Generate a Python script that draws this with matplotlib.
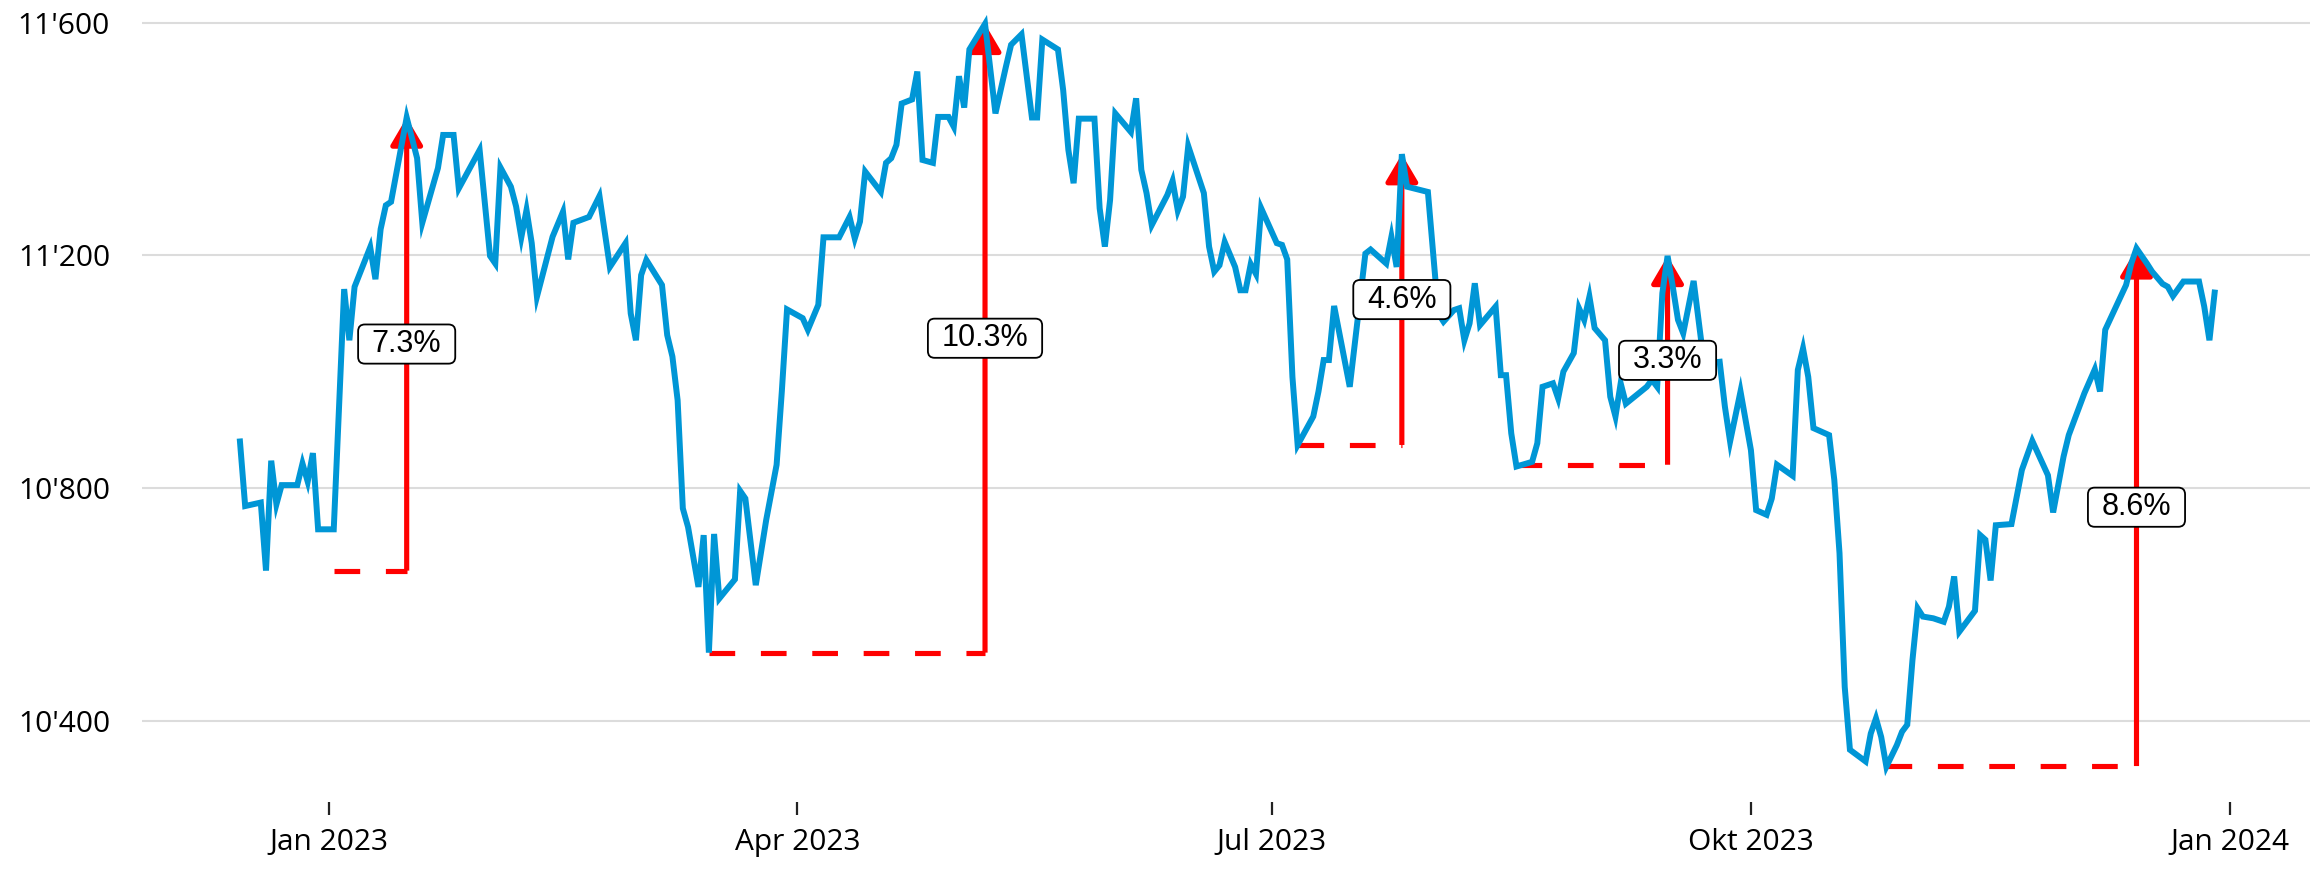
import matplotlib
matplotlib.use("Agg")
import matplotlib.pyplot as plt
import matplotlib.dates as mdates
from matplotlib.patches import FancyArrowPatch, BoxStyle
import pandas as pd

# ---- data ----
dates_2022_dec = [15, 16, 19, 20, 21, 22, 23, 26, 27, 28, 29, 30]
vals_2022_dec = [10880, 10769, 10775, 10658, 10847, 10772, 10805, 10805, 10842, 10811, 10860, 10729]

days_jan = [2, 4, 5, 6, 9, 10, 11, 12, 13, 16, 18, 19, 22, 23, 25, 26, 30]
vals_jan = [10729, 11142, 11054, 11146, 11214, 11159, 11245, 11286, 11292, 11437, 11367, 11256, 11350, 11407, 11407, 11315, 11381]
days_feb = [1, 2, 3, 5, 6, 7, 8, 9, 10, 13, 15, 16, 17, 20, 22, 24, 27, 28]
vals_feb = [11199, 11186, 11351, 11318, 11284, 11231, 11278, 11221, 11129, 11232, 11275, 11193, 11256, 11266, 11302, 11180, 11221, 11100]
days_mar = [1, 2, 3, 6, 7, 8, 9, 10, 11, 13, 14, 15, 16, 17, 20, 21, 22, 24, 26, 28, 29, 30]
vals_mar = [11054, 11166, 11192, 11149, 11063, 11026, 10951, 10765, 10733, 10630, 10719, 10517, 10721, 10610, 10643, 10795, 10782, 10633, 10745, 10840, 10966, 11107]
days_apr = [2, 3, 5, 6, 9, 11, 12, 13, 14, 17, 18, 19, 20, 21, 23, 24, 25, 27, 28, 30]
vals_apr = [11092, 11072, 11115, 11231, 11231, 11266, 11229, 11258, 11344, 11309, 11359, 11367, 11390, 11461, 11468, 11516, 11364, 11359, 11438, 11438]
days_may = [1, 2, 3, 4, 7, 9, 11, 12, 14, 16, 17, 18, 21, 22, 23, 24, 25, 28, 29, 30, 31]
vals_may = [11421, 11508, 11454, 11554, 11598, 11444, 11524, 11562, 11580, 11437, 11437, 11571, 11554, 11484, 11381, 11324, 11435, 11435, 11281, 11215, 11295]
days_jun = [1, 4, 5, 6, 7, 8, 11, 12, 13, 14, 15, 18, 19, 20, 21, 22, 24, 25, 26, 27, 28, 29]
vals_jun = [11444, 11412, 11470, 11347, 11307, 11252, 11304, 11328, 11277, 11301, 11388, 11307, 11215, 11172, 11183, 11223, 11180, 11140, 11140, 11185, 11168, 11281]
days_jul = [2, 3, 4, 5, 6, 9, 10, 11, 12, 13, 16, 19, 20, 23, 24, 25, 26, 27, 31]
vals_jul = [11221, 11218, 11193, 10991, 10874, 10923, 10966, 11020, 11020, 11113, 10974, 11203, 11210, 11186, 11232, 11180, 11374, 11318, 11309]
days_aug = [2, 3, 5, 6, 7, 8, 9, 10, 13, 14, 15, 16, 17, 20, 21, 22, 24, 25, 26, 28, 29, 30, 31]
vals_aug = [11100, 11086, 11106, 11109, 11054, 11083, 11152, 11080, 11112, 10994, 10994, 10894, 10837, 10845, 10877, 10974, 10980, 10954, 11000, 11032, 11109, 11089, 11129]
days_sep = [1, 3, 4, 5, 6, 7, 11, 12, 13, 14, 15, 16, 17, 18, 20, 22, 25, 26, 27, 29]
vals_sep = [11075, 11054, 10957, 10923, 10980, 10945, 10974, 10986, 10974, 11135, 11199, 11146, 11089, 11066, 11156, 11014, 11017, 10940, 10880, 10966]
days_oct = [1, 2, 4, 5, 6, 9, 10, 11, 12, 13, 16, 17, 18, 19, 20, 23, 24, 25, 26, 27, 29, 30, 31]
vals_oct = [10865, 10762, 10754, 10782, 10840, 10821, 11003, 11040, 10991, 10903, 10891, 10814, 10688, 10458, 10350, 10330, 10378, 10404, 10372, 10321, 10358, 10381, 10393]
days_nov = [1, 2, 3, 5, 7, 8, 9, 10, 13, 14, 15, 16, 17, 20, 22, 24, 27, 28, 30]
vals_nov = [10504, 10593, 10579, 10576, 10570, 10596, 10648, 10553, 10589, 10719, 10711, 10641, 10736, 10738, 10831, 10881, 10822, 10758, 10854]
days_dec = [1, 4, 6, 7, 8, 12, 13, 14, 16, 17, 19, 20, 21, 23, 26, 27, 28, 29]
vals_dec = [10891, 10963, 11004, 10966, 11072, 11149, 11186, 11212, 11186, 11172, 11151, 11146, 11130, 11155, 11155, 11112, 11054, 11136]

rally_start = ["2023-01-02", "2023-03-15", "2023-07-06", "2023-08-17", "2023-10-27"]
rally_low = [10658, 10517, 10874, 10840, 10322]
rally_peak_date = ["2023-01-16", "2023-05-07", "2023-07-26", "2023-09-15", "2023-12-14"]
rally_high = [11437, 11598, 11374, 11199, 11212]
rally_labels = ["7.3%", "10.3%", "4.6%", "3.3%", "8.6%"]

y_ticks = [10400, 10800, 11200, 11600]
y_ticklabels = ["10'400", "10'800", "11'200", "11'600"]
x_ticks = ["2023-01-01", "2023-04-01", "2023-07-01", "2023-10-01", "2024-01-01"]
x_ticklabels = ["Jan 2023", "Apr 2023", "Jul 2023", "Okt 2023", "Jan 2024"]

# ---- assemble series ----
months = [(2022, 12, dates_2022_dec, vals_2022_dec),
          (2023, 1, days_jan, vals_jan), (2023, 2, days_feb, vals_feb),
          (2023, 3, days_mar, vals_mar), (2023, 4, days_apr, vals_apr),
          (2023, 5, days_may, vals_may), (2023, 6, days_jun, vals_jun),
          (2023, 7, days_jul, vals_jul), (2023, 8, days_aug, vals_aug),
          (2023, 9, days_sep, vals_sep), (2023, 10, days_oct, vals_oct),
          (2023, 11, days_nov, vals_nov), (2023, 12, days_dec, vals_dec)]
all_dates, all_vals = [], []
for yr, mo, dd, vv in months:
    for d, v in zip(dd, vv):
        all_dates.append(pd.Timestamp(yr, mo, d))
        all_vals.append(v)

BLUE = "#0096d6"
RED = "#ff0000"
TICKFONT = ["Open Sans", "DejaVu Sans"]
BOXFONT = ["Liberation Sans", "DejaVu Sans"]


def label_box(x0, y0, width, height, mutation_size):
    padx = 0.45 * mutation_size
    pady = 0.15 * mutation_size
    return BoxStyle.Round(pad=0, rounding_size=0.22 * mutation_size)(
        x0 - padx, y0 - pady, width + 2 * padx, height + 2 * pady, 1.0)


fig = plt.figure(figsize=(23.16, 8.71), dpi=100)
ax = fig.add_axes([142 / 2316, (871 - 802) / 871, (2310 - 142) / 2316, (802 - 10) / 871])

base = mdates.date2num(pd.Timestamp("2023-01-01"))
ax.set_xlim(base - 35.8, base + 380.3)
ax.set_ylim(10260.2, 11621.8)

# grid
for yv in y_ticks:
    ax.axhline(yv, color="#dcdcdc", lw=1.5, zorder=1)

# rallies: dashed baseline + arrow + label
for s, lo, pdte, hi, lab in zip(rally_start, rally_low, rally_peak_date, rally_high, rally_labels):
    xs = mdates.date2num(pd.Timestamp(s))
    xp = mdates.date2num(pd.Timestamp(pdte))
    ax.plot([xs, xp], [lo, lo], color=RED, lw=3.7, dashes=(5.0, 5.0),
            dash_capstyle="butt", zorder=2)
    arr = FancyArrowPatch((xp, lo), (xp, hi), arrowstyle="-|>,head_length=17,head_width=10",
                          mutation_scale=1, color=RED, lw=3.7, shrinkA=0, shrinkB=0,
                          joinstyle="round", capstyle="butt", zorder=2)
    ax.add_patch(arr)
    ax.text(xp, (lo + hi) / 2, lab, ha="center", va="center", fontsize=22,
            family=BOXFONT, color="black", zorder=6,
            bbox=dict(boxstyle=label_box, fc="white", ec="black", lw=1.3))

# main line
ax.plot(mdates.date2num(all_dates), all_vals, color=BLUE, lw=4.3, zorder=4,
        solid_joinstyle="miter")

# axes styling
for sp in ax.spines.values():
    sp.set_visible(False)
ax.set_yticks(y_ticks)
ax.set_yticklabels(y_ticklabels, family=TICKFONT, fontsize=21.5)
ax.tick_params(axis="y", length=0, pad=23)
ax.set_xticks([mdates.date2num(pd.Timestamp(t)) for t in x_ticks])
ax.set_xticklabels(x_ticklabels, family=TICKFONT, fontsize=21.5)
ax.tick_params(axis="x", direction="out", length=9, width=1.6, color="#222222", pad=10)
ax.set_facecolor("white")

fig.savefig("out.png", dpi=100, facecolor="white")
